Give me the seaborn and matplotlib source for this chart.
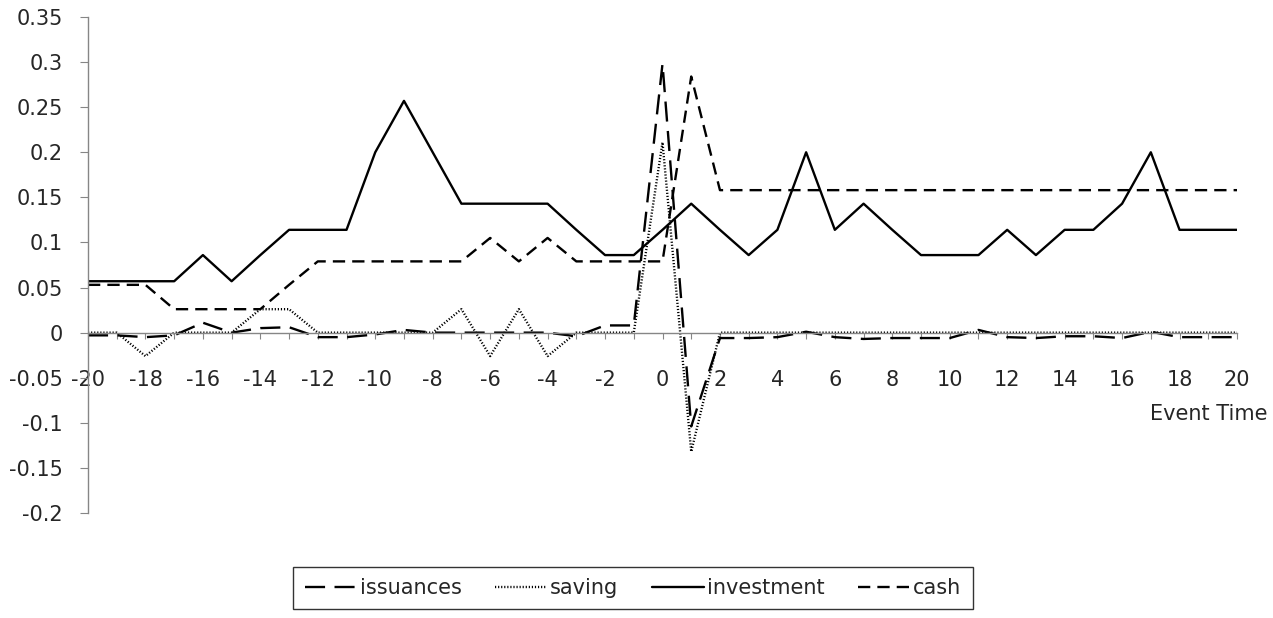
import numpy as np
import pandas as pd
import matplotlib
matplotlib.use("Agg")
import matplotlib.pyplot as plt
import seaborn as sns

event_time = list(range(-20, 21))

issuances = [-0.003, -0.003, -0.005, -0.003, 0.011, 0.0, 0.005, 0.006, -0.005, -0.005,
             -0.002, 0.003, 0.0, 0.0, 0.0, 0.0, 0.0, -0.004, 0.008, 0.008,
             0.298, -0.104, -0.006, -0.006, -0.005, 0.001, -0.005, -0.007, -0.006, -0.006,
             -0.006, 0.003, -0.005, -0.006, -0.004, -0.004, -0.006, 0.001, -0.005, -0.005,
             -0.005]
saving = [0.0, 0.0, -0.026, 0.0, 0.0, 0.0, 0.026, 0.026, 0.0, 0.0,
          0.0, 0.0, 0.0, 0.026, -0.026, 0.026, -0.026, 0.0, 0.0, 0.0,
          0.211, -0.132, 0.0, 0.0, 0.0, 0.0, 0.0, 0.0, 0.0, 0.0,
          0.0, 0.0, 0.0, 0.0, 0.0, 0.0, 0.0, 0.0, 0.0, 0.0,
          0.0]
investment = [0.057, 0.057, 0.057, 0.057, 0.086, 0.057, 0.086, 0.114, 0.114, 0.114,
              0.2, 0.257, 0.2, 0.143, 0.143, 0.143, 0.143, 0.114, 0.086, 0.086,
              0.114, 0.143, 0.114, 0.086, 0.114, 0.2, 0.114, 0.143, 0.114, 0.086,
              0.086, 0.086, 0.114, 0.086, 0.114, 0.114, 0.143, 0.2, 0.114, 0.114,
              0.114]
cash = [0.053, 0.053, 0.053, 0.026, 0.026, 0.026, 0.026, 0.053, 0.079, 0.079,
        0.079, 0.079, 0.079, 0.079, 0.105, 0.079, 0.105, 0.079, 0.079, 0.079,
        0.079, 0.284, 0.158, 0.158, 0.158, 0.158, 0.158, 0.158, 0.158, 0.158,
        0.158, 0.158, 0.158, 0.158, 0.158, 0.158, 0.158, 0.158, 0.158, 0.158,
        0.158]

y_ticks = [0.35, 0.3, 0.25, 0.2, 0.15, 0.1, 0.05, 0, -0.05, -0.1, -0.15, -0.2]
y_labels = ["0.35", "0.3", "0.25", "0.2", "0.15", "0.1", "0.05", "0",
            "-0.05", "-0.1", "-0.15", "-0.2"]

df = pd.DataFrame({"t": event_time, "issuances": issuances, "saving": saving,
                   "investment": investment, "cash": cash})

sns.set_style("white")
plt.rcParams["font.family"] = ["DejaVu Sans"]

fig = plt.figure(figsize=(12.73, 6.18), dpi=100)
ax = fig.add_axes([88 / 1273, 1 - 513 / 618, (1237 - 88) / 1273, (513 - 17) / 618])

styles = {
    "issuances": (0, (8.5, 4)),
    "saving": (0, (0.5, 0.8)),
    "investment": "-",
    "cash": (0, (5.2, 3)),
}
for name, ls in styles.items():
    sns.lineplot(data=df, x="t", y=name, ax=ax, color="black", linewidth=1.7,
                 linestyle=ls, label=name)

ax.set_xlim(-20, 20)
ax.set_ylim(-0.2, 0.35)
ax.set_xlabel("")
ax.set_ylabel("")

ax.set_xticks(event_time)
ax.set_xticklabels([str(t) if t % 2 == 0 else "" for t in event_time])
ax.set_yticks(y_ticks)
ax.set_yticklabels(y_labels)

for side in ["top", "right"]:
    ax.spines[side].set_visible(False)
ax.spines["bottom"].set_position(("data", 0))
for side in ["left", "bottom"]:
    ax.spines[side].set_color("#868686")
    ax.spines[side].set_linewidth(1.0)

ax.tick_params(axis="y", direction="out", length=6, color="#868686", pad=12,
               labelsize=15, left=True)
ax.tick_params(axis="x", direction="out", length=4, color="#868686", pad=23,
               labelsize=15, bottom=True)

fig.text(1268 / 1273, 1 - 414 / 618, "Event Time", ha="right", va="center", fontsize=15)

leg = ax.legend(loc="center", bbox_to_anchor=(633 / 1273, 1 - 588 / 618),
                bbox_transform=fig.transFigure, ncol=4, frameon=True, fancybox=False,
                fontsize=15, handlelength=2.5, handletextpad=0.15, columnspacing=1.6,
                borderpad=0.55, borderaxespad=0)
leg.get_frame().set_edgecolor("black")
leg.get_frame().set_linewidth(1.0)

fig.savefig("out.png", dpi=100)
